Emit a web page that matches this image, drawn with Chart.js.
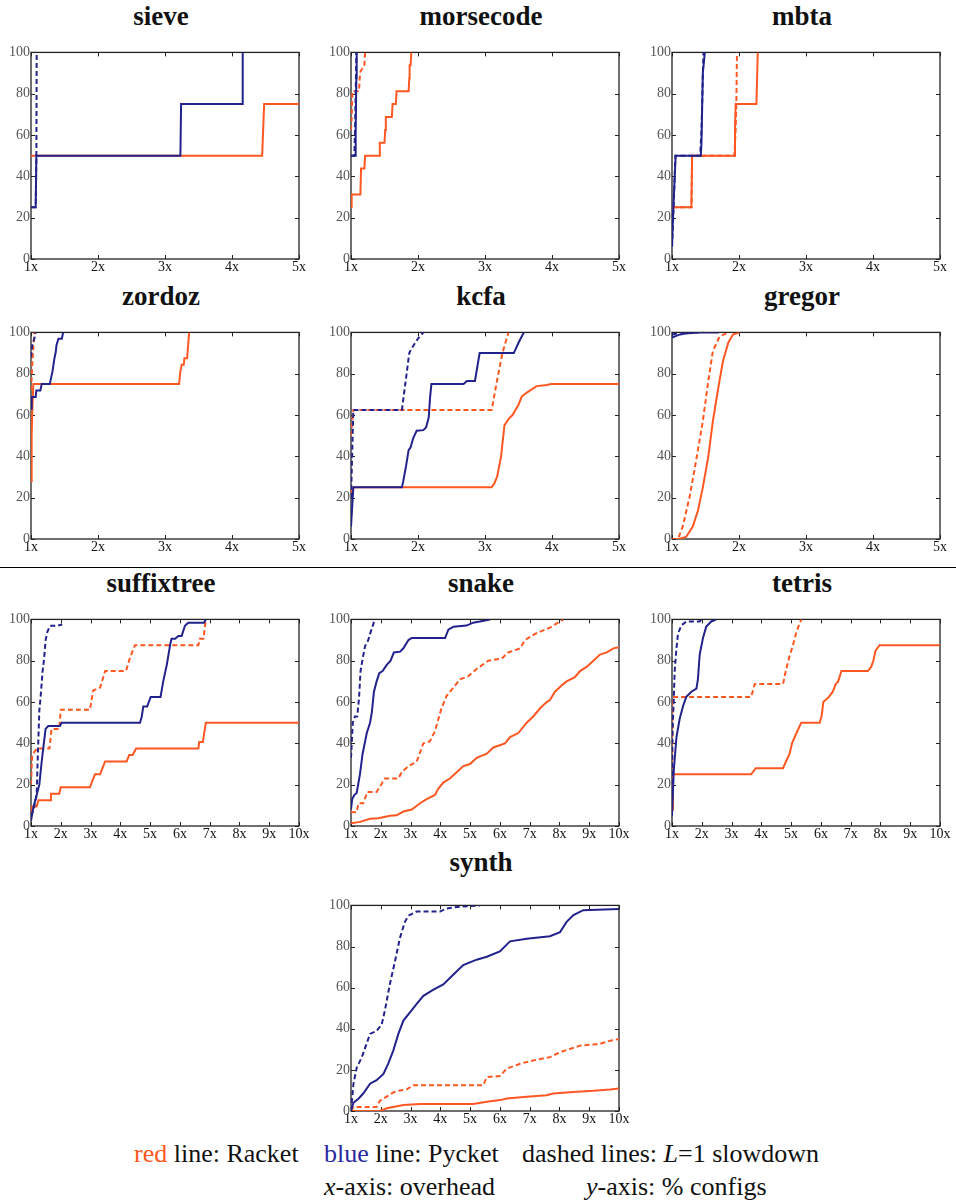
<!DOCTYPE html>
<html><head><meta charset="utf-8">
<script src="https://cdn.jsdelivr.net/npm/chart.js@4.4.1/dist/chart.umd.min.js"></script>
<style>
body{margin:0;background:#fff;width:956px;height:1203px;position:relative;overflow:hidden;font-family:'Liberation Serif',serif;color:#111}
.title{position:absolute;font-family:'Liberation Serif',serif;font-weight:bold;font-size:27px;line-height:27px;transform:translateX(-50%);white-space:nowrap}
canvas{position:absolute}
.sep{position:absolute;left:0;top:567px;width:956px;height:1px;background:#000}
.leg{position:absolute;font-family:'Liberation Serif',serif;font-size:26px;line-height:26px;white-space:nowrap}
</style></head><body>
<div class="sep"></div>
<div id="root"></div>
<div class="leg" style="left:134px;top:1141px"><span style="color:#ff5722">red</span> line: Racket</div>
<div class="leg" style="left:324px;top:1141px"><span style="color:#2a2a9e">blue</span> line: Pycket</div>
<div class="leg" style="left:522px;top:1141px">dashed lines: <i>L</i>=1 slowdown</div>
<div class="leg" style="left:324px;top:1174px"><i>x</i>-axis: overhead</div>
<div class="leg" style="left:586px;top:1174px"><i>y</i>-axis: % configs</div>
<script>
// ---------------- data ----------------
const panelNames = ['sieve','morsecode','mbta','zordoz','kcfa','gregor','suffixtree','snake','tetris','synth'];
const xMaxes = [5,5,5,5,5,5,10,10,10,10];
const yTicks = [0,20,40,60,80,100];

const sieveRacket   = [[1,50],[4.45,50],[4.48,75],[5,75]];
const sieveRacketL1 = [];
const sievePycket   = [[1,25],[1.07,25],[1.08,50],[3.23,50],[3.24,75],[4.15,75],[4.16,100]];
const sievePycketL1 = [[1,25],[1.07,25],[1.08,50],[1.085,100]];

const mcRacket   = [[1,25],[1.01,31.25],[1.14,31.25],[1.15,43.75],[1.2,43.75],[1.21,50],[1.42,50],[1.43,56.25],[1.5,56.25],[1.51,62.5],[1.52,68.75],[1.61,68.75],[1.62,75],[1.67,75],[1.68,81.25],[1.86,81.25],[1.87,87.5],[1.875,93.75],[1.89,93.75],[1.9,100]];
const mcRacketL1 = [[1,62.5],[1.01,68.75],[1.02,81.25],[1.12,81.25],[1.13,87.5],[1.14,90.6],[1.2,93.75],[1.21,100]];
const mcPycket   = [[1,50],[1.06,50],[1.07,62.5],[1.08,87.5],[1.085,100]];
const mcPycketL1 = [[1,50],[1.05,50],[1.06,62.5],[1.075,90],[1.08,100]];

const mbtaRacket   = [[1,25],[1.29,25],[1.3,50],[1.93,50],[1.94,62.5],[1.95,75],[2.26,75],[2.28,100]];
const mbtaRacketL1 = [[1,25],[1.29,25],[1.3,50],[1.93,50],[1.95,62.5],[1.96,75],[1.97,100]];
const mbtaPycket   = [[1,6],[1.02,25],[1.055,50],[1.43,50],[1.44,56],[1.46,90],[1.49,100]];
const mbtaPycketL1 = [[1,6],[1.03,30],[1.05,50],[1.42,50],[1.44,62.5],[1.47,100]];

const zdRacket   = [[1,28],[1.01,50],[1.02,62.5],[1.035,75],[3.21,75],[3.23,81.25],[3.25,84.4],[3.28,84.4],[3.29,87.5],[3.33,87.5],[3.345,93.75],[3.36,100]];
const zdRacketL1 = [[1,72],[1.02,85],[1.035,93],[1.05,100]];
const zdPycket   = [[1,63],[1.01,68.75],[1.07,68.75],[1.08,71.9],[1.14,71.9],[1.16,75],[1.28,75],[1.3,78],[1.32,81],[1.35,87.5],[1.37,90.6],[1.38,93.75],[1.41,96.9],[1.46,96.9],[1.48,100]];
const zdPycketL1 = [[1,88],[1.02,94],[1.05,97],[1.07,100]];

const kcRacket   = [[1,22],[1.035,25],[3.1,25],[3.14,27],[3.18,30],[3.24,40],[3.29,55],[3.35,58],[3.41,60],[3.5,65],[3.55,69],[3.63,71],[3.77,74],[3.92,74.5],[3.99,75],[5,75]];
const kcRacketL1 = [[1,50],[1.035,62.5],[3.1,62.5],[3.17,75],[3.26,90],[3.35,100]];
const kcPycket   = [[1,6],[1.035,25],[1.76,25],[1.78,28],[1.82,35],[1.86,43],[1.89,44.4],[1.93,49],[1.98,52.4],[2.08,52.7],[2.12,54],[2.16,58.8],[2.18,68.4],[2.2,75],[2.68,75],[2.73,76.5],[2.85,76.5],[2.92,90],[3.43,90],[3.5,95],[3.58,100]];
const kcPycketL1 = [[1,20],[1.035,62.5],[1.76,62.5],[1.87,90],[1.9,92],[2.0,97],[2.08,100]];

const grRacket   = [[1,0],[1.1,0],[1.21,1],[1.31,6],[1.39,14],[1.46,25],[1.54,39.5],[1.61,57],[1.69,73],[1.76,86],[1.84,95],[1.91,99],[2.01,100]];
const grRacketL1 = [[1,0],[1.09,0],[1.16,6],[1.26,20],[1.36,38],[1.46,57],[1.54,76],[1.61,91],[1.71,98],[1.84,100]];
const grPycket   = [[1,97.5],[1.1,98.8],[1.2,99.5],[1.4,100],[1.7,100]];
const grPycketL1 = [[1,99],[1.15,100],[1.4,100]];

const stRacket   = [[1,6],[1.02,9.4],[1.19,9.4],[1.25,12.5],[1.64,12.5],[1.67,15.6],[1.95,15.6],[2.0,18.75],[2.98,18.75],[3.06,21.9],[3.15,25],[3.32,25],[3.4,28],[3.49,31.25],[4.21,31.25],[4.3,34.4],[4.41,34.4],[4.53,37.5],[6.62,37.5],[6.65,40.6],[6.77,40.6],[6.87,50],[10,50]];
const stRacketL1 = [[1,20],[1.04,34.4],[1.2,37.5],[1.62,37.5],[1.69,47],[1.95,47],[2.0,56.25],[2.98,56.25],[3.09,65.6],[3.32,67],[3.49,75],[4.19,75],[4.32,81.25],[4.49,87.5],[6.62,87.5],[6.67,90.6],[6.79,90.6],[6.87,100]];
const stPycket   = [[1,2.5],[1.08,9],[1.19,15],[1.28,20],[1.35,30],[1.41,37.5],[1.49,47],[1.58,48.4],[1.97,48.4],[2.03,50],[4.66,50],[4.72,53],[4.77,57.8],[4.9,57.8],[5.02,62.5],[5.35,62.5],[5.44,70],[5.56,78],[5.67,87.5],[5.72,90.6],[5.84,90.6],[5.95,92],[6.06,92],[6.17,96.9],[6.28,98.4],[6.81,98.4],[6.87,100]];
const stPycketL1 = [[1,5],[1.08,7.5],[1.19,15],[1.22,30],[1.28,56],[1.32,62],[1.39,75],[1.44,81],[1.49,90],[1.55,94],[1.64,96.9],[1.86,96.9],[2.05,97.5]];

const snRacket   = [[1,1.3],[1.3,2],[1.64,3.5],[1.92,3.8],[2.31,5],[2.53,5.2],[2.76,7],[3.04,8],[3.32,11],[3.54,13],[3.82,15],[3.93,18],[4.1,21],[4.32,23],[4.55,26],[4.77,29],[5.0,30],[5.22,33],[5.56,35],[5.78,38],[6.17,40],[6.34,43],[6.62,45],[6.9,50],[7.12,53],[7.35,57],[7.57,60],[7.68,61],[7.85,65],[8.07,68],[8.24,70],[8.52,72],[8.69,75],[8.91,77],[9.14,80],[9.36,83],[9.59,84],[9.81,86],[10,86.5]];
const snRacketL1 = [[1,6.6],[1.19,6.6],[1.25,11],[1.41,11],[1.55,16.5],[1.86,16.5],[2.14,23],[2.59,23],[2.7,26],[2.93,29],[3.2,31],[3.43,40],[3.65,41],[3.82,46],[4.04,57],[4.21,63],[4.44,67],[4.66,71],[4.94,72.5],[5.22,76],[5.61,80],[6.06,81],[6.28,84],[6.68,86],[6.84,90],[7.18,93],[7.68,96],[7.9,98],[8.13,100]];
const snPycket   = [[1,8],[1.04,13],[1.11,15],[1.19,16],[1.3,25],[1.39,35],[1.53,45],[1.64,50],[1.7,55],[1.77,65],[1.86,70],[1.95,74],[2.06,75],[2.2,78],[2.33,80],[2.44,84],[2.65,84.4],[2.76,86],[2.93,90],[3.04,91],[4.16,91],[4.27,95],[4.44,96.5],[4.88,97],[5.1,98.4],[5.33,99],[5.67,100]];
const snPycketL1 = [[1,33],[1.06,50],[1.13,53],[1.21,53],[1.27,62],[1.32,75],[1.38,80],[1.47,87],[1.58,90],[1.64,93],[1.8,100]];

const ttRacket   = [[1,8],[1.03,25],[3.66,25],[3.81,28],[4.73,28],[4.82,31],[4.95,35],[5.03,40],[5.18,45],[5.34,50],[5.96,50],[6.02,53],[6.05,56],[6.08,60],[6.27,62.5],[6.4,65],[6.5,68.75],[6.58,70],[6.69,75],[7.58,75],[7.69,77],[7.76,80],[7.84,85],[7.97,87.5],[10,87.5]];
const ttRacketL1 = [[1,20],[1.03,62.5],[3.66,62.5],[3.78,68.75],[4.73,68.75],[4.82,75],[4.93,81.25],[5.06,87.5],[5.18,94],[5.34,100]];
const ttPycket   = [[1,5],[1.06,27],[1.15,43],[1.26,52],[1.37,58],[1.48,62.5],[1.65,65],[1.82,66.5],[1.87,71],[1.93,83],[2.04,91],[2.15,96.5],[2.32,99],[2.49,100]];
const ttPycketL1 = [[1,5],[1.01,43],[1.06,62],[1.09,75],[1.15,86],[1.2,93],[1.31,97],[1.48,99],[1.93,99],[1.99,100]];

const syRacket   = [[1,0],[1.97,0],[2.2,1.3],[2.76,2.9],[3.32,3.4],[5.1,3.4],[5.56,4.5],[6.0,5.3],[6.23,6.1],[6.9,6.9],[7.57,7.7],[7.79,8.5],[8.46,9.3],[9.14,9.8],[9.7,10.4],[10,10.9]];
const syRacketL1 = [[1,0],[1.08,2],[1.86,2],[1.97,5],[2.2,7],[2.42,9],[2.64,10],[2.87,10.5],[3.09,12.5],[5.44,12.5],[5.56,16.5],[6.0,17],[6.23,20.6],[6.68,23],[7.12,24.6],[7.68,26.2],[8.02,28.6],[8.69,31.8],[9.36,32.6],[9.7,34.2],[10,35]];
const syPycket   = [[1,0],[1.08,4],[1.25,6],[1.41,8.5],[1.64,13.3],[1.86,15],[2.09,18],[2.25,23],[2.42,29.4],[2.59,37.5],[2.76,44],[2.98,48],[3.2,52],[3.43,56],[3.77,59],[4.1,61.6],[4.44,66.4],[4.77,71],[5.22,73.6],[5.56,75],[6.0,77.6],[6.34,82.5],[6.9,83.8],[7.68,85],[8.02,87],[8.24,92],[8.47,95.3],[8.8,97.7],[10,98.2]];
const syPycketL1 = [[1,0],[1.08,13],[1.19,21],[1.36,26],[1.53,33],[1.64,37.5],[1.86,39],[2.03,42],[2.14,49],[2.31,62],[2.48,73],[2.64,84],[2.81,92],[2.93,95],[3.2,97],[3.99,97],[4.21,98.5],[4.66,99.4],[5.33,100]];

const seriesByPanel = [
  [sieveRacket, sieveRacketL1, sievePycket, sievePycketL1],
  [mcRacket, mcRacketL1, mcPycket, mcPycketL1],
  [mbtaRacket, mbtaRacketL1, mbtaPycket, mbtaPycketL1],
  [zdRacket, zdRacketL1, zdPycket, zdPycketL1],
  [kcRacket, kcRacketL1, kcPycket, kcPycketL1],
  [grRacket, grRacketL1, grPycket, grPycketL1],
  [stRacket, stRacketL1, stPycket, stPycketL1],
  [snRacket, snRacketL1, snPycket, snPycketL1],
  [ttRacket, ttRacketL1, ttPycket, ttPycketL1],
  [syRacket, syRacketL1, syPycket, syPycketL1]
];

// ---------------- layout / style ----------------
const ORANGE = '#ff5722';
const BLUE = '#22228c';
const boxes = [ // plot-area rectangles
  {L:31,R:299,T:51,B:259},{L:351,R:619,T:51,B:259},{L:672,R:940,T:51,B:259},
  {L:31,R:299,T:331,B:539},{L:351,R:619,T:331,B:539},{L:672,R:940,T:331,B:539},
  {L:31,R:299,T:618,B:826},{L:351,R:619,T:618,B:826},{L:672,R:940,T:618,B:826},
  {L:351,R:619,T:904,B:1111}
];
const titleBaseline = [26,26,26,306,306,306,593,593,593,872];
const YW = 31, PADT = 8, PADR = 14, XH = 18;
const FONT = "'Liberation Serif', serif";

const framePlugin = {
  id: 'frame',
  beforeDatasetsDraw(chart) {
    const {ctx, chartArea: a, scales: {x, y}} = chart;
    ctx.save();
    ctx.strokeStyle = '#222';
    ctx.lineWidth = 1.3;
    ctx.strokeRect(a.left, a.top, a.right - a.left, a.bottom - a.top);
    ctx.lineWidth = 1;
    ctx.beginPath();
    for (const t of y.ticks) {
      const py = Math.round(y.getPixelForValue(t.value)) + 0.5;
      ctx.moveTo(a.left, py); ctx.lineTo(a.left + 4, py);
      ctx.moveTo(a.right, py); ctx.lineTo(a.right - 4, py);
    }
    for (const t of x.ticks) {
      const px = Math.round(x.getPixelForValue(t.value)) + 0.5;
      ctx.moveTo(px, a.top); ctx.lineTo(px, a.top + 4);
      ctx.moveTo(px, a.bottom); ctx.lineTo(px, a.bottom - 4);
    }
    ctx.stroke();
    ctx.restore();
  }
};

function ds(points, color, dashed) {
  return {
    data: points.map(p => ({x: p[0], y: p[1]})),
    borderColor: color,
    borderWidth: 2,
    borderDash: dashed ? [5, 3] : [],
    pointRadius: 0,
    tension: 0,
    fill: false
  };
}

const root = document.getElementById('root');
panelNames.forEach((name, i) => {
  const b = boxes[i];
  const t = document.createElement('div');
  t.className = 'title';
  t.textContent = name;
  t.style.left = ((b.L + b.R) / 2 - 4) + 'px';
  t.style.top = (titleBaseline[i] - 22.6) + 'px';
  root.appendChild(t);

  const c = document.createElement('canvas');
  const w = YW + (b.R - b.L) + PADR, h = PADT + (b.B - b.T) + XH;
  c.width = w; c.height = h;
  c.style.left = (b.L - YW) + 'px';
  c.style.top = (b.T - PADT) + 'px';
  c.style.width = w + 'px'; c.style.height = h + 'px';
  root.appendChild(c);

  const [rk, rkL1, py, pyL1] = seriesByPanel[i];
  new Chart(c, {
    type: 'line',
    data: {datasets: [ds(pyL1, BLUE, true), ds(py, BLUE, false), ds(rkL1, ORANGE, true), ds(rk, ORANGE, false)]},
    options: {
      responsive: false, animation: false, devicePixelRatio: 1,
      layout: {padding: {top: PADT, right: PADR, left: 0, bottom: 0}, autoPadding: false},
      plugins: {legend: {display: false}, tooltip: {enabled: false}, title: {display: false}},
      scales: {
        x: {
          type: 'linear', min: 1, max: xMaxes[i],
          grid: {display: false, drawTicks: false}, border: {display: false},
          ticks: {stepSize: 1, padding: 0, color: '#111', maxRotation: 0, autoSkip: false,
                  font: {family: FONT, size: 14}, callback: v => v + 'x'},
          afterFit(s) { s.height = XH; }
        },
        y: {
          min: 0, max: 100,
          grid: {display: false, drawTicks: false}, border: {display: false},
          afterBuildTicks(s) { s.ticks = yTicks.map(v => ({value: v})); },
          ticks: {padding: 1, color: '#555', font: {family: FONT, size: 14}},
          afterFit(s) { s.width = YW; }
        }
      }
    },
    plugins: [framePlugin]
  });
});
</script>
</body></html>
